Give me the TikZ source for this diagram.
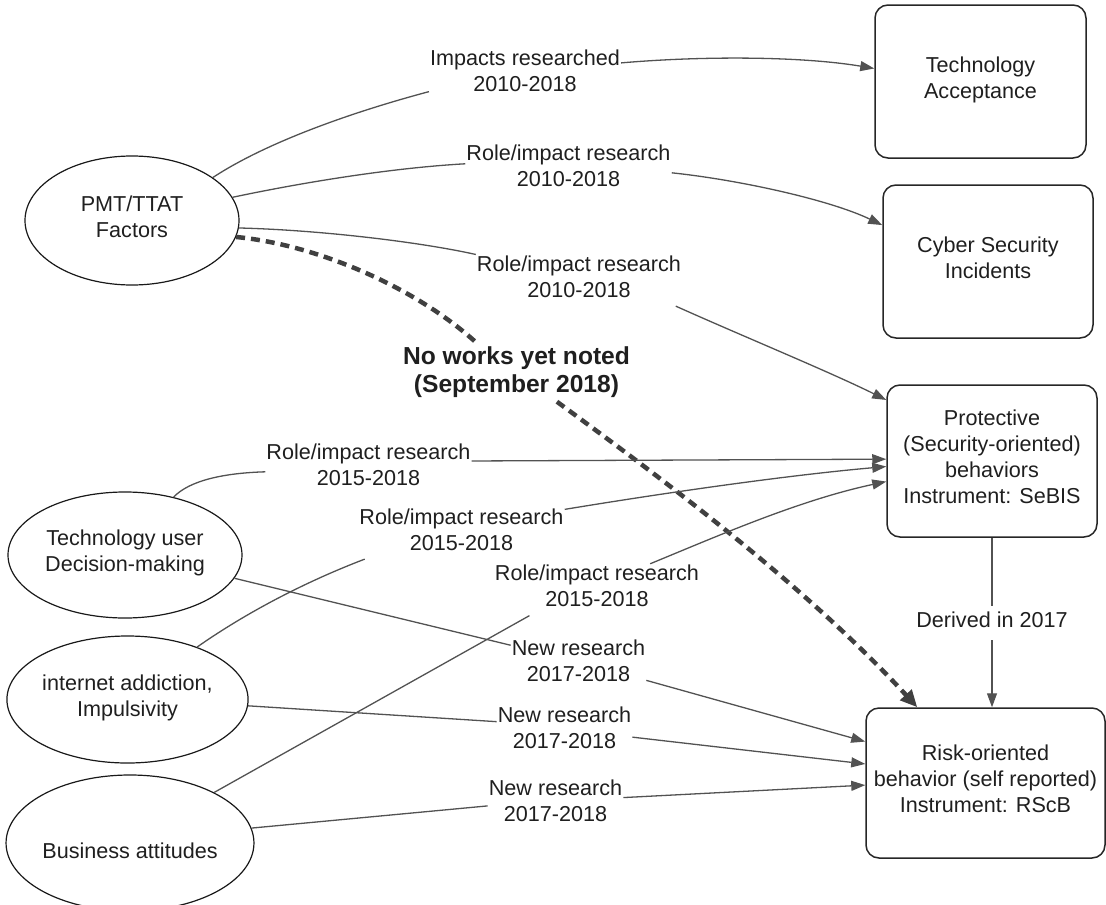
\documentclass[tikz,border=0pt]{standalone}
\usepackage{fontspec}
\setmainfont{Liberation Sans}
\usetikzlibrary{arrows.meta,shapes.geometric}

\begin{document}
\begin{tikzpicture}[x=1pt,y=-1pt,
  every node/.style={text=black!88},
  txt/.style={font=\fontsize{21.6}{26}\selectfont, align=center,
    execute at begin node=\strut, execute at end node=\strut},
  oval/.style={txt, ellipse, draw=black!90, line width=1.2pt, inner sep=0pt},
  box/.style={txt, draw=black!85, line width=1.5pt, rounded corners=13pt, inner sep=0pt},
  lbl/.style={txt, inner sep=1pt},
  link/.style={draw=black!68, line width=1.3pt},
  arr/.style={link, -{Triangle[length=14pt,width=10pt]}},
  gapline/.style={draw=black!75, line width=4.5pt, dash pattern=on 9pt off 6pt},
  gaparr/.style={gapline, -{Triangle[length=17pt,width=15pt]}}
]
\useasboundingbox (0,0) rectangle (1106,905);

% factor ellipses
\node[oval, minimum width=214pt, minimum height=129pt] (pmt) at (132,220.5) {PMT/TTAT\\Factors};
\node[oval, minimum width=234pt, minimum height=126pt] (tud) at (125,555) {Technology user\\Decision-making};
\node[oval, minimum width=239pt, minimum height=127pt] (iai) at (127.5,699.5) {internet addiction,\\Impulsivity};
\node[oval, minimum width=234pt, minimum height=136pt, text height=30pt, text depth=0pt] (bus) at (130,843) {Business attitudes};

% outcome boxes
\node[box, minimum width=211pt, minimum height=153pt] (ta) at (980.5,81.5) {Technology\\Acceptance};
\node[box, minimum width=210pt, minimum height=153pt] (cs) at (988,261.5) {Cyber Security\\Incidents};
\node[box, minimum width=210pt, minimum height=152pt] (pr) at (992,461) {Protective\\(Security-oriented)\\behaviors\\Instrument: SeBIS};
\node[box, minimum width=239pt, minimum height=150pt] (rk) at (985.5,783) {Risk-oriented\\behavior (self reported)\\Instrument: RScB};

% edge labels
\node[lbl] (l1) at (525,74.7) {Impacts researched\\2010-2018};
\node[lbl] (l2) at (568.5,169.2) {Role/impact research\\2010-2018};
\node[lbl] (l3) at (579,280.2) {Role/impact research\\2010-2018};
\node[lbl, font=\bfseries\fontsize{24.6}{28}\selectfont] (nw) at (516.5,373.4) {No works yet noted\\(September 2018)};
\node[lbl] (l4) at (368.5,468.2) {Role/impact research\\2015-2018};
\node[lbl] (l5) at (461.5,533.2) {Role/impact research\\2015-2018};
\node[lbl] (l6) at (597,589.7) {Role/impact research\\2015-2018};
\node[lbl] (n6) at (578.5,664.7) {New research\\2017-2018};
\node[lbl] (n7) at (564.5,731.2) {New research\\2017-2018};
\node[lbl] (n8) at (555.5,804.7) {New research\\2017-2018};

% PMT/TTAT factors
\draw[link] (pmt.28) .. controls (270,140) and (360,110) .. (l1.190.7);
\draw[arr] (l1.7.7) .. controls (700,56) and (800,56) .. (ta.173.2);
\draw[link] (pmt.13) .. controls (300,183) and (390,168) .. (l2.177);
\draw[arr] (l2.358) .. controls (740,180) and (830,200) .. (cs.161.3);
\draw[link] (pmt.356.5) .. controls (320,230) and (420,242) .. (l3.166);
\draw[arr] (l3.345) .. controls (740,335) and (830,372) .. (pr.150.7);
\draw[gapline] (pmt.351) .. controls (320,245) and (420,290) .. (nw.143.8);
\draw[gaparr] (nw.325.7) .. controls (650,470) and (800,580) .. (rk.132.8);

% protective behaviour research
\draw[link] (tud.50) .. controls (190,480) and (225,473) .. (l4.182);
\draw[arr] (l4.4.3) -- (pr.179.5);
\draw[link] (iai.37.7) .. controls (250,610) and (310,580) .. (l5.195.4);
\draw[arr] (l5.13.2) .. controls (670,492) and (790,475) .. (pr.183.8);
\draw[link] (bus.31.9) -- (l6.201.4);
\draw[arr] (l6.26.3) .. controls (720,535) and (800,500) .. (pr.191.3);

% risk-oriented behaviour research
\draw[link] (tud.348.4) -- (n6.164);
\draw[arr] (n6.347.3) -- (rk.161.5);
\draw[link] (iai.357.4) -- (n7.172.4);
\draw[arr] (n7.355.9) -- (rk.171.4);
\draw[link] (bus.7.3) -- (n8.181.9);
\draw[arr] (n8.6.1) -- (rk.181.9);

% derivation of the risk instrument
\draw[arr] (pr.south) -- (pr.south |- rk.north)
  node[midway, txt, fill=white, inner sep=4pt] (dv) {Derived in 2017};
\end{tikzpicture}
\end{document}
